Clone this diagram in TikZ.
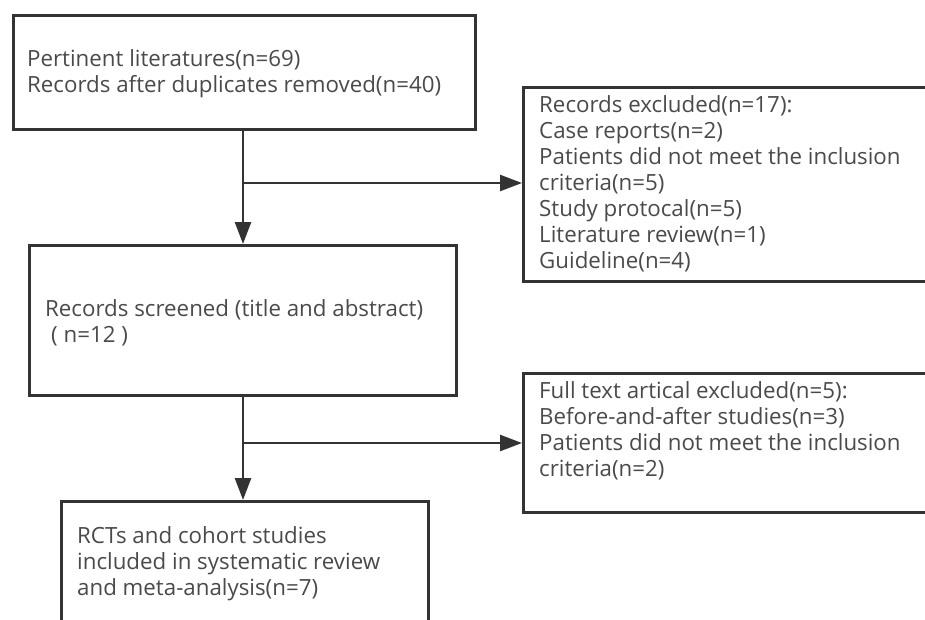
\documentclass[tikz,border=0pt]{standalone}
\usepackage{fontspec}
\setmainfont{Open Sans}
\usetikzlibrary{arrows.meta}
\definecolor{linec}{HTML}{333333}
\definecolor{textc}{HTML}{4A4A4A}
\tikzset{
  box/.style={draw=linec, line width=2.5pt, fill=none, inner sep=0pt},
  txt/.style={anchor=west, align=left, inner sep=0pt, text=textc,
    font=\fontsize{22.3}{26}\selectfont},
  arr/.style={draw=linec, line width=2.5pt, -{Triangle[length=22pt,width=16pt]}},
  ln/.style={draw=linec, line width=2.5pt}
}
\begin{document}
\begin{tikzpicture}[x=1pt,y=-1pt]
\useasboundingbox (0,0) rectangle (925,619);
\clip (0,0) rectangle (925,619);
\fill[white] (0,0) rectangle (925,619);
% boxes
\node[box, minimum width=462pt, minimum height=114pt, anchor=north west] (b1) at (12,14) {};
\node[box, minimum width=427pt, minimum height=150pt, anchor=north west] (b2) at (28,244) {};
\node[box, minimum width=367pt, minimum height=160pt, anchor=north west] (b4) at (60,500) {};
\node[box, minimum width=430pt, minimum height=194pt, anchor=north west] (b3) at (522,86) {};
\node[box, minimum width=430pt, minimum height=139pt, anchor=north west] (b5) at (522,372) {};
% texts
\node[txt] (t1) at (27,73.5) {Pertinent literatures(n=69)\\Records after duplicates removed(n=40)};
\node[txt] (t2) at (45,322.5) {Records screened (title and abstract)\\\hspace{6pt}( n=12 )};
\node[txt] (t3) at (539,183.5) {Records excluded(n=17):\\Case reports(n=2)\\Patients did not meet the inclusion\\criteria(n=5)\\Study protocal(n=5)\\Literature review(n=1)\\Guideline(n=4)};
\node[txt] (t5) at (539,431) {Full text artical excluded(n=5):\\Before-and-after studies(n=3)\\Patients did not meet the inclusion\\criteria(n=2)};
\node[txt] (t4) at (77,564) {RCTs and cohort studies\\included in systematic review\\and meta-analysis(n=7)};
% connectors
\coordinate (j1) at (243,183);
\coordinate (j2) at (243,443);
\draw[arr] (j1 |- b1.south) -- (j1 |- b2.north);
\draw[arr] (j1) -- (j1 -| b3.west);
\draw[arr] (j2 |- b2.south) -- (j2 |- b4.north);
\draw[arr] (j2) -- (j2 -| b5.west);
\end{tikzpicture}
\end{document}
